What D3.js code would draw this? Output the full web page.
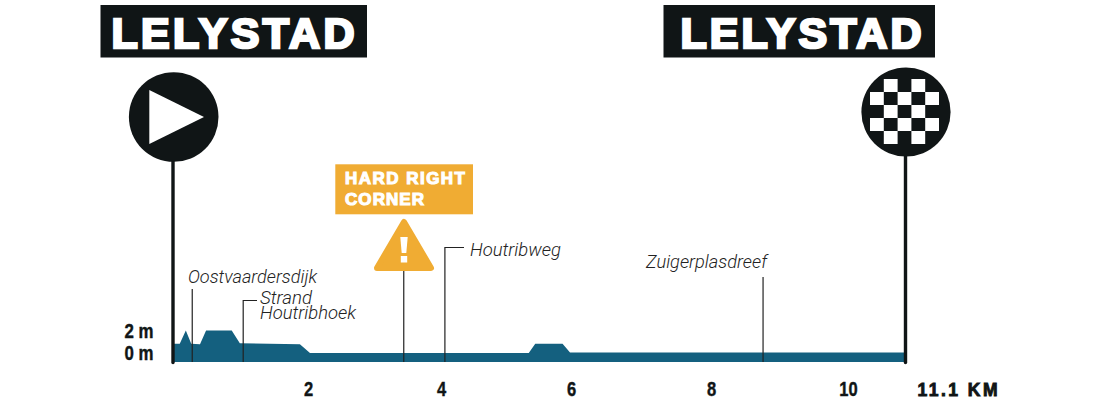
<!DOCTYPE html>
<html><head><meta charset="utf-8">
<script src="https://cdn.jsdelivr.net/npm/d3@7"></script>
<style>html,body{margin:0;padding:0;background:#fff}svg{display:block}</style>
</head><body><svg id="c" width="1107" height="405"></svg>
<script>
const profileKm  = [0,0.10,0.19,0.27,0.40,0.49,0.87,0.99,1.88,2.03,5.35,5.45,5.87,5.985,11.1];
const profileEle = [0.85,0.85,2.05,0.85,0.8,2.05,2.05,0.88,0.8,0,0,0.85,0.85,0.05,0.05];
const kmTicks = [2,4,6,8,10];
const eleTicks = [2,0];
const totalLabel = "11.1 KM";
const townNames = ["LELYSTAD","LELYSTAD"];
const routeNames = ["Oostvaardersdijk","Strand","Houtribhoek","Houtribweg","Zuigerplasdreef"];
const routeKm = [0.285,1.04,4.06,8.76];
const cornerKm = 3.44;
const cornerText = ["HARD RIGHT","CORNER"];
const checker = [[0,1,0,1,0],[1,0,1,0,1],[0,1,0,1,0],[1,0,1,0,1],[0,1,0,1,0]];

const INK="#101516", BLUE="#14607f", AMBER="#f0ac33";
const svg=d3.select("#c");
const x=d3.scaleLinear().domain([0,2,4,6,8,10,11.1]).range([173,308,441,571,711,848,905.5]);
const y=d3.scaleLinear().domain([0,2]).range([353,331]);
const base=-0.82;

svg.append("path").datum(profileKm.map((k,i)=>[k,profileEle[i]]))
  .attr("fill",BLUE)
  .attr("d",d3.area().x(d=>x(d[0])).y0(y(base)).y1(d=>y(d[1])));

const leader=(pts)=>svg.append("path").attr("fill","none").attr("stroke","#222").attr("stroke-width",1.2).attr("d",d3.line()(pts));
leader([[x(routeKm[0]),289],[x(routeKm[0]),y(base)]]);
leader([[257,300.5],[x(routeKm[1]),300.5],[x(routeKm[1]),y(base)]]);
leader([[464,247.5],[x(routeKm[2]),247.5],[x(routeKm[2]),y(base)]]);
leader([[x(routeKm[3]),277],[x(routeKm[3]),y(base)]]);
leader([[x(cornerKm),271],[x(cornerKm),y(base)]]);

[[x(0),160],[x(11.1),155]].forEach(([px,top])=>{
  svg.append("line").attr("x1",px).attr("x2",px).attr("y1",top).attr("y2",y(base)+0.5)
    .attr("stroke",INK).attr("stroke-width",3.4).attr("stroke-linecap","round");
});

const banners=[{x:100.5,w:266.5,tx:111.5,tw:243},{x:663.5,w:271.5,tx:680.5,tw:241}];
banners.forEach((b,i)=>{
  svg.append("rect").attr("x",b.x).attr("y",5).attr("width",b.w).attr("height",52.5).attr("fill",INK);
  svg.append("text").attr("x",b.tx).attr("y",47.7).text(townNames[i])
    .attr("font-family","'Liberation Sans'").attr("font-weight",700).attr("font-size",43)
    .attr("fill","#fff").attr("stroke","#fff").attr("stroke-width",2.6).attr("stroke-linejoin","miter")
    .attr("textLength",b.tw).attr("lengthAdjust","spacing");
});

svg.append("circle").attr("cx",173.7).attr("cy",117).attr("r",44.8).attr("fill",INK);
svg.append("path").attr("d",d3.line()([[149.3,90],[204,117],[149.3,144]])+"Z").attr("fill","#fff");

svg.append("circle").attr("cx",906).attr("cy",112).attr("r",44.6).attr("fill",INK);
const cw=13.8,ch=13,cx0=870,cy0=79;
checker.forEach((row,r)=>row.forEach((v,c)=>{
  if(v) svg.append("rect").attr("x",cx0+c*cw).attr("y",cy0+r*ch).attr("width",cw).attr("height",ch).attr("fill","#fff");
}));

svg.append("rect").attr("x",335.3).attr("y",164.3).attr("width",137.7).attr("height",50).attr("fill",AMBER);
cornerText.forEach((t,i)=>{
  svg.append("text").attr("x",345).attr("y",183.7+i*21).text(t)
    .attr("font-family","'Liberation Sans'").attr("font-weight",700).attr("font-size",17)
    .attr("fill","#fff").attr("stroke","#fff").attr("stroke-width",1.1)
    .attr("textLength",i==0?120:79).attr("lengthAdjust","spacing");
});
svg.append("path").attr("d",d3.line()([[404,222],[431,268],[377,268]])+"Z")
  .attr("fill",AMBER).attr("stroke",AMBER).attr("stroke-width",6).attr("stroke-linejoin","round");
svg.append("path").attr("d",d3.line()([[400.3,237],[407.7,237],[406.3,253],[401.7,253]])+"Z").attr("fill","#fff");
svg.append("rect").attr("x",400.8).attr("y",256).attr("width",6.4).attr("height",6.5).attr("fill","#fff");

const rl=[[188,283,129],[260,304,52],[260,319,96],[470,255.7,91],[646,268,121]];
routeNames.forEach((t,i)=>{
  svg.append("text").attr("x",rl[i][0]).attr("y",rl[i][1]).text(t)
    .attr("font-family","Roboto").attr("font-weight",300).attr("font-style","italic")
    .attr("font-size",18.5).attr("fill","#222")
    .attr("textLength",rl[i][2]).attr("lengthAdjust","spacingAndGlyphs");
});

const axX=svg.append("g").attr("transform","translate(0,396)")
  .call(d3.axisBottom(x).tickValues(kmTicks).tickSize(0).tickPadding(0).tickFormat(d3.format("d")));
axX.select(".domain").remove();
axX.selectAll("text").attr("dy",0).attr("y",0).attr("textLength",d=>String(d).length*9.2).attr("lengthAdjust","spacingAndGlyphs");
const axY=svg.append("g").attr("transform","translate(153.5,0)")
  .call(d3.axisLeft(y).tickValues(eleTicks).tickSize(0).tickPadding(0).tickFormat(d=>d+" m"));
axY.select(".domain").remove();
axY.selectAll("text").attr("dy",0).attr("y",6.8).attr("textLength",29).attr("lengthAdjust","spacingAndGlyphs");
svg.selectAll("g text").attr("font-family","'Liberation Sans'")
  .attr("font-weight",700).attr("font-size",19.5).attr("fill",INK)
  .attr("stroke",INK).attr("stroke-width",0.4);
axX.attr("font-family",null); axY.attr("font-family",null);

svg.append("text").attr("x",917.5).attr("y",396).text(totalLabel)
  .attr("font-family","'Liberation Sans'").attr("font-weight",700).attr("font-size",17.5)
  .attr("fill",INK).attr("stroke",INK).attr("stroke-width",0.9)
  .attr("textLength",80).attr("lengthAdjust","spacing");
</script></body></html>
